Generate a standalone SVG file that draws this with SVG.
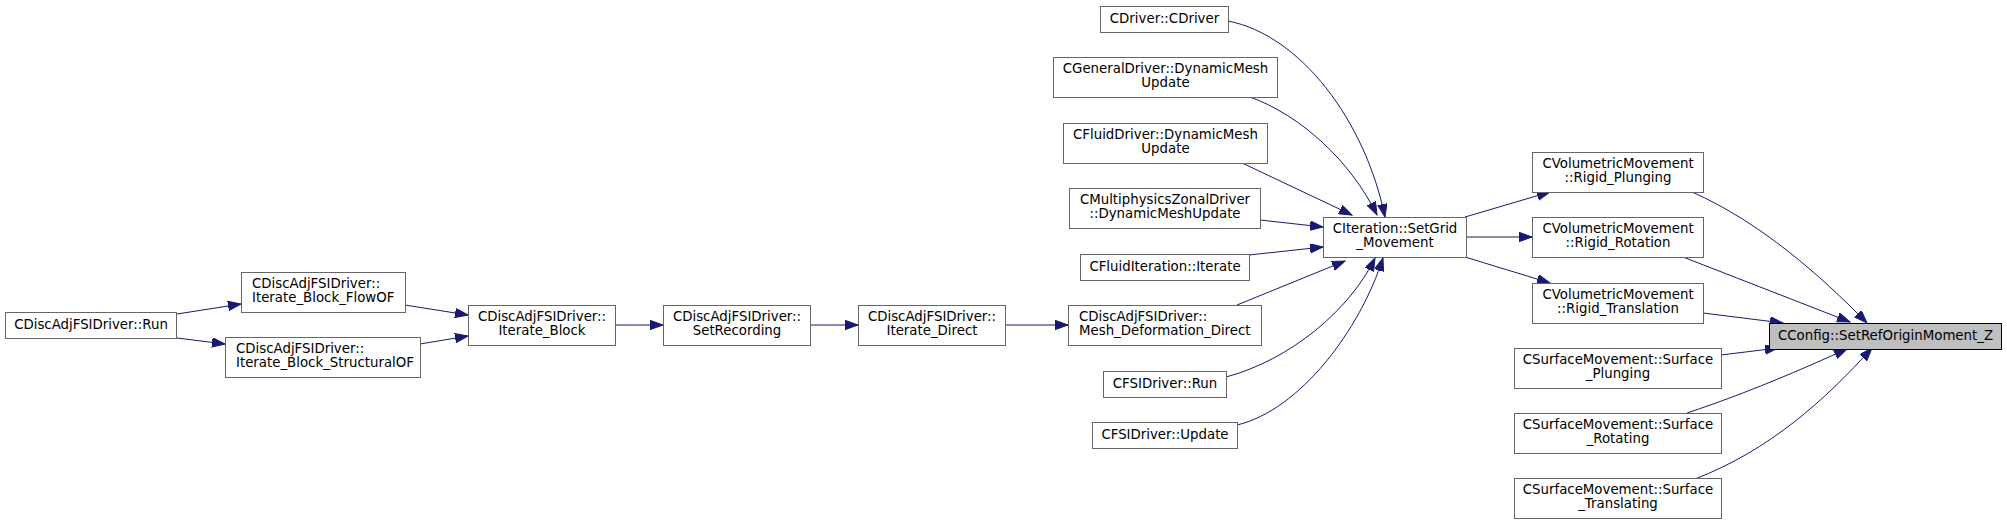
<svg xmlns="http://www.w3.org/2000/svg" width="2007" height="525" viewBox="0 0 2007 525">
<defs>
<style>
.n rect{fill:#ffffff;stroke:#666666;stroke-width:1}
.n.h rect{fill:#bfbfbf;stroke:#000000}
.n text{font-family:"DejaVu Sans","Liberation Sans",sans-serif;font-size:13.33px;fill:#000000}
.m{text-anchor:middle}
.e path{fill:none;stroke:#191970;stroke-width:1;marker-end:url(#a)}
</style>
<marker id="a" markerUnits="userSpaceOnUse" markerWidth="14" markerHeight="10" refX="13" refY="4.7" orient="auto">
<path d="M0,0 L13,4.7 L0,9.4 Z" fill="#191970" stroke="#191970" stroke-width="1"/>
</marker>
</defs>
<rect width="2007" height="525" fill="#ffffff"/>
<g class="e" id="edges">
<path d="M177,314 L241,304"/>
<path d="M177,338 L225,344"/>
<path d="M405,305 L468,315"/>
<path d="M420,344 L468,336"/>
<path d="M615,325 L663,325"/>
<path d="M810,325 L858,325"/>
<path d="M1005,325 L1068,325"/>
<path d="M1228,21 C1300,35 1365,120 1385,217"/>
<path d="M1250,97 C1300,115 1350,160 1377,215"/>
<path d="M1240,162 L1352,215"/>
<path d="M1260,220 L1323,227"/>
<path d="M1249,255 L1323,247"/>
<path d="M1237,305 L1345,261"/>
<path d="M1226,377 C1290,360 1350,310 1375,258"/>
<path d="M1237,425 C1300,410 1360,330 1383,258"/>
<path d="M1465,217 L1550,192"/>
<path d="M1467,237 L1532,237"/>
<path d="M1465,257 L1550,283"/>
<path d="M1692,192 C1760,222 1820,275 1867,323"/>
<path d="M1683,257 L1850,322"/>
<path d="M1703,313 L1783,323"/>
<path d="M1721,355 L1778,348"/>
<path d="M1687,413 C1750,392 1800,370 1847,349"/>
<path d="M1695,479 C1770,450 1825,400 1872,348"/>
</g>
<g class="n h" id="n_cconfig"><rect x="1769.5" y="323.5" width="232" height="26"/><text class="m" x="1885.5" y="340">CConfig::SetRefOriginMoment_Z</text></g>
<g class="n" id="n_rigid_plunging"><rect x="1532.5" y="152.5" width="171" height="40"/><text class="m" x="1618" y="168">CVolumetricMovement</text><text class="m" x="1618" y="182">::Rigid_Plunging</text></g>
<g class="n" id="n_rigid_rotation"><rect x="1532.5" y="217.5" width="171" height="40"/><text class="m" x="1618" y="233">CVolumetricMovement</text><text class="m" x="1618" y="247">::Rigid_Rotation</text></g>
<g class="n" id="n_rigid_translation"><rect x="1532.5" y="283.5" width="171" height="40"/><text class="m" x="1618" y="299">CVolumetricMovement</text><text class="m" x="1618" y="313">::Rigid_Translation</text></g>
<g class="n" id="n_surface_plunging"><rect x="1514.5" y="348.5" width="207" height="40"/><text class="m" x="1618" y="364">CSurfaceMovement::Surface</text><text class="m" x="1618" y="378">_Plunging</text></g>
<g class="n" id="n_surface_rotating"><rect x="1514.5" y="413.5" width="207" height="40"/><text class="m" x="1618" y="429">CSurfaceMovement::Surface</text><text class="m" x="1618" y="443">_Rotating</text></g>
<g class="n" id="n_surface_translating"><rect x="1514.5" y="478.5" width="207" height="40"/><text class="m" x="1618" y="494">CSurfaceMovement::Surface</text><text class="m" x="1618" y="508">_Translating</text></g>
<g class="n" id="n_citeration"><rect x="1323.5" y="217.5" width="143" height="40"/><text class="m" x="1395" y="233">CIteration::SetGrid</text><text class="m" x="1395" y="247">_Movement</text></g>
<g class="n" id="n_cdriver"><rect x="1100.5" y="6.5" width="128" height="26"/><text class="m" x="1164.5" y="23">CDriver::CDriver</text></g>
<g class="n" id="n_cgeneraldriver"><rect x="1053.5" y="57.5" width="224" height="40"/><text class="m" x="1165.5" y="73">CGeneralDriver::DynamicMesh</text><text class="m" x="1165.5" y="87">Update</text></g>
<g class="n" id="n_cfluiddriver"><rect x="1063.5" y="123.5" width="204" height="40"/><text class="m" x="1165.5" y="139">CFluidDriver::DynamicMesh</text><text class="m" x="1165.5" y="153">Update</text></g>
<g class="n" id="n_cmultiphysics"><rect x="1069.5" y="188.5" width="191" height="40"/><text class="m" x="1165" y="204">CMultiphysicsZonalDriver</text><text class="m" x="1165" y="218">::DynamicMeshUpdate</text></g>
<g class="n" id="n_cfluiditeration"><rect x="1080.5" y="254.5" width="169" height="26"/><text class="m" x="1165" y="271">CFluidIteration::Iterate</text></g>
<g class="n" id="n_mesh_deformation"><rect x="1068.5" y="305.5" width="193" height="40"/><text x="1079" y="321">CDiscAdjFSIDriver::</text><text x="1079" y="335">Mesh_Deformation_Direct</text></g>
<g class="n" id="n_cfsidriver_run"><rect x="1103.5" y="371.5" width="123" height="26"/><text class="m" x="1165" y="388">CFSIDriver::Run</text></g>
<g class="n" id="n_cfsidriver_update"><rect x="1092.5" y="422.5" width="145" height="26"/><text class="m" x="1165" y="439">CFSIDriver::Update</text></g>
<g class="n" id="n_iterate_direct"><rect x="858.5" y="305.5" width="147" height="40"/><text class="m" x="932" y="321">CDiscAdjFSIDriver::</text><text class="m" x="932" y="335">Iterate_Direct</text></g>
<g class="n" id="n_setrecording"><rect x="663.5" y="305.5" width="147" height="40"/><text class="m" x="737" y="321">CDiscAdjFSIDriver::</text><text class="m" x="737" y="335">SetRecording</text></g>
<g class="n" id="n_iterate_block"><rect x="468.5" y="305.5" width="147" height="40"/><text class="m" x="542" y="321">CDiscAdjFSIDriver::</text><text class="m" x="542" y="335">Iterate_Block</text></g>
<g class="n" id="n_flowof"><rect x="241.5" y="272.5" width="164" height="40"/><text x="252" y="288">CDiscAdjFSIDriver::</text><text x="252" y="302">Iterate_Block_FlowOF</text></g>
<g class="n" id="n_structuralof"><rect x="225.5" y="337.5" width="195" height="40"/><text x="236" y="353">CDiscAdjFSIDriver::</text><text x="236" y="367">Iterate_Block_StructuralOF</text></g>
<g class="n" id="n_run"><rect x="5.5" y="312.5" width="171" height="26"/><text class="m" x="91" y="329">CDiscAdjFSIDriver::Run</text></g>
</svg>
